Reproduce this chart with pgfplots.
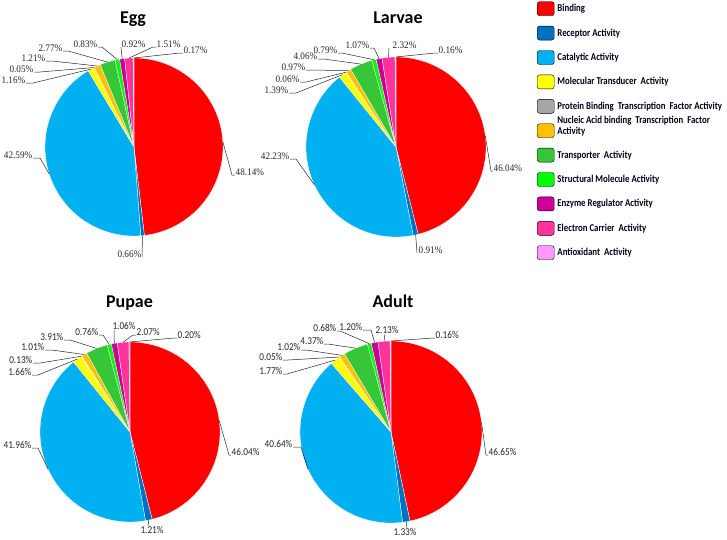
\documentclass[border=0pt]{standalone}
\usepackage{fontspec}
\setmainfont{Carlito}
\newfontfamily\legfont{Carlito Bold}[FakeStretch=0.84]
\newfontfamily\serlabfont{Liberation Serif}[FakeStretch=0.92]
\newfontfamily\sanlabfont{Carlito}[FakeStretch=0.88]
\usepackage{pgfplots}
\pgfplotsset{compat=1.18}
\definecolor{c1}{RGB}{255,0,0}
\definecolor{c2}{RGB}{0,112,192}
\definecolor{c3}{RGB}{0,176,240}
\definecolor{c4}{RGB}{255,255,0}
\definecolor{c5}{RGB}{166,166,166}
\definecolor{c6}{RGB}{255,192,0}
\definecolor{c7}{RGB}{55,198,55}
\definecolor{c8}{RGB}{0,255,0}
\definecolor{c9}{RGB}{204,0,153}
\definecolor{c10}{RGB}{255,51,153}
\definecolor{c11}{RGB}{255,153,255}
\pgfplotsset{
  slice/.style={draw=white, line width=0.3pt, forget plot},
  leader/.style={black!85, line width=0.5pt, forget plot},
}
\tikzset{
  serlab/.style={font=\serlabfont\fontsize{10}{12}\selectfont, inner sep=0.5pt, text=black!85},
  sanlab/.style={font=\sanlabfont\fontsize{10.5}{12}\selectfont, inner sep=0.5pt, text=black!85},
  ttl/.style={font=\bfseries\fontsize{18}{20}\selectfont, anchor=base},
}
% #1 cx, #2 cy, #3 r, #4 label style, #5 list value/kx/ky/hx/tx/ty/anchor
\newcommand\pie[5]{%
  \gdef\cum{0}%
  \foreach \v/\kx/\ky/\hx/\tx/\ty/\an [count=\i] in {#5}{%
    \pgfmathsetmacro\a{\cum*3.6}%
    \pgfmathsetmacro\newcum{\cum+\v}\global\let\cum\newcum
    \pgfmathsetmacro\b{\cum*3.6}%
    \pgfmathsetmacro\m{(\a+\b)/2}%
    \pgfmathsetmacro\ex{#1+#3*sin(\m)}%
    \pgfmathsetmacro\ey{#2-#3*cos(\m)}%
    \pgfmathtruncatemacro\ns{max(3,(\b-\a)/2+3)}%
    \edef\doit{%
      \noexpand\addplot[slice, fill=c\i, domain=\a:\b, samples=\ns] ({#1+#3*sin(x)},{#2-#3*cos(x)}) -- (axis cs:#1,#2) -- cycle;
      \noexpand\addplot[leader] coordinates {(\ex,\ey) (\kx,\ky) (\hx,\ky)};
      \noexpand\node[#4, anchor=\an] at (axis cs:\tx,\ty) {\v\noexpand\%};
    }\doit
  }%
}
\begin{document}
\begin{tikzpicture}
\begin{axis}[
  at={(0,0)}, anchor=south west,
  width=727pt, height=539pt, scale only axis,
  xmin=0, xmax=727, ymin=0, ymax=539, y dir=reverse,
  hide axis, clip=false,
  legend image code/.code={\fill[#1, rounded corners=2.5pt] (0pt,-7pt) rectangle (17pt,7pt);},
  legend cell align=left,
  legend style={at={(axis cs:537,1.5)}, anchor=north west, draw=none, fill=none,
    inner sep=0pt, outer sep=0pt, row sep=10pt, column sep=2pt,
    font=\legfont\fontsize{10.5}{11}\selectfont, text=black!90!blue,
    nodes={inner sep=1pt}, cells={anchor=west}},
]
% Egg
\pie{134}{147}{89}{serlab}{48.14/232/175/235/235/175/base west,
0.66/142/257/142/142/257/base east,
42.59/40/158/33/33/158/base east,
1.16/33/83/26/26/83/base east,
0.05/40/72/34/34/72/base east,
1.21/52/61/46/46/61/base east,
2.77/68/51/63/63/51/base east,
0.83/102/47/98/98/47/base east,
0.92/121/47/121/121/47/base west,
1.51/153/47/156/156/47/base west,
0.17/180/53/183/183/53/base west}
% Larvae
\pie{396}{147}{90}{serlab}{46.04/491/171/493/493/171/base west,
0.91/417/253/417/418/253/base west,
42.23/296/159/290/290/159/base east,
1.39/296/93/289/289/93/base east,
0.06/306/82/300/300/82/base east,
0.97/312/70/306/306/70/base east,
4.06/324/59/318/318/59/base east,
0.79/342/53/338/338/53/base east,
1.07/374/48/370/370/48/base east,
2.32/389/48/389/392/48/base west,
0.16/435/53/438/438/53/base west}
% Pupae
\pie{130}{432}{90}{sanlab}{46.04/229/455/231/231/455/base west,
1.21/148/526/148/152/526/north,
41.96/38/448/32/32/448/base east,
1.66/38/375/32/32/375/base east,
0.13/40/363/33/33/363/base east,
1.01/52/350/45/45/350/base east,
3.91/70/340/64/64/340/base east,
0.76/103/335/99/99/335/base east,
1.06/114/330/114/124/330/south,
2.07/133/335/136/136/335/base west,
0.20/174/338/177/177/338/base west}
% Adult
\pie{391}{432}{91}{sanlab}{46.65/486/455/488/488/455/base west,
1.33/407/528/407/405/528/north,
40.64/301/447/293/293/447/base east,
1.77/287/374/283/283/374/base east,
0.05/288/360/283/283/360/base east,
1.02/306/350/301/301/350/base east,
4.37/328/344/324/324/344/base east,
0.68/340/331/337/337/331/base east,
1.20/371/330/363/363/330/base east,
2.13/385/334/385/387/334/south,
0.16/433/338/435/435/338/base west}
% titles
\node[ttl] at (axis cs:133,23) {Egg};
\node[ttl] at (axis cs:398,23) {Larvae};
\node[ttl] at (axis cs:129.5,307) {Pupae};
\node[ttl] at (axis cs:393,307) {Adult};
% legend
\addlegendimage{fill=c1}\addlegendentry{Binding}
\addlegendimage{fill=c2}\addlegendentry{Receptor Activity}
\addlegendimage{fill=c3}\addlegendentry{Catalytic Activity}
\addlegendimage{fill=c4}\addlegendentry{Molecular Transducer\ \ Activity}
\addlegendimage{fill=c5}\addlegendentry{Protein Binding\ \ Transcription\ \ Factor Activity}
\addlegendimage{fill=c6}\addlegendentry{\smash{\begin{tabular}{@{}l@{}}Nucleic Acid binding\ \ Transcription\ \ Factor\\Activity\end{tabular}}}
\addlegendimage{fill=c7}\addlegendentry{Transporter\ \ Activity}
\addlegendimage{fill=c8}\addlegendentry{Structural Molecule Activity}
\addlegendimage{fill=c9}\addlegendentry{Enzyme Regulator Activity}
\addlegendimage{fill=c10}\addlegendentry{Electron Carrier\ \ Activity}
\addlegendimage{fill=c11}\addlegendentry{Antioxidant\ \ Activity}
\end{axis}
\pgfresetboundingbox
\path (0,0) rectangle (727pt,539pt);
\end{tikzpicture}
\end{document}
